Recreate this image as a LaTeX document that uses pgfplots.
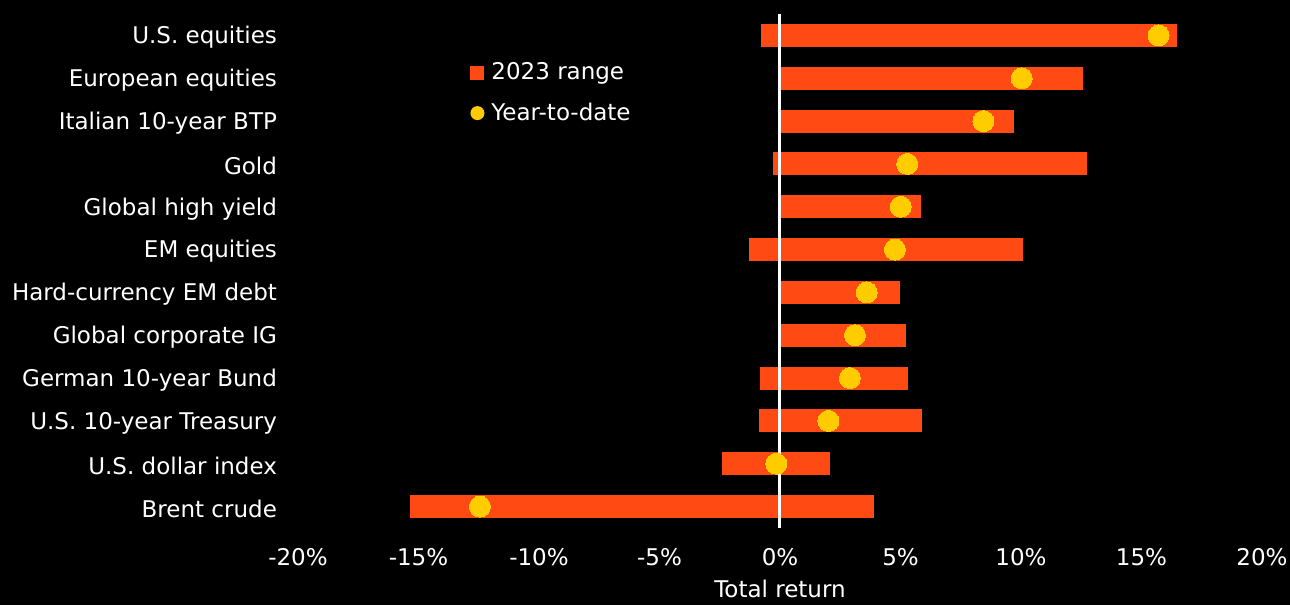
\documentclass[border=0pt]{standalone}
\usepackage{pgfplots}
\pgfplotsset{compat=1.18}
\usepackage{fontspec}
\setmainfont{DejaVu Sans}
\definecolor{rng}{HTML}{FF4A14}
\definecolor{ytd}{HTML}{FFCC00}
\newcommand{\lblfont}{\fontsize{11.5}{13}\selectfont}
\begin{document}
\begin{tikzpicture}
\fill[black] (-149pt,-38.5pt) rectangle (496pt,264pt);
\begin{axis}[
  at={(0,0)}, anchor=south west,
  scale only axis, width=482pt, height=257pt,
  xmin=-20, xmax=20, ymin=-0.5, ymax=11.5,
  axis line style={draw=none}, major tick length=0pt,
  xtick={-20,-15,...,20},
  xticklabels={-20\%,-15\%,-10\%,-5\%,0\%,5\%,10\%,15\%,20\%},
  ytick={0,...,11},
  yticklabels={Brent crude, U.S. dollar index, U.S. 10-year Treasury, German 10-year Bund, Global corporate IG, Hard-currency EM debt, EM equities, Global high yield, Gold, Italian 10-year BTP, European equities, U.S. equities},
  tick label style={font=\lblfont, text=white},
  xticklabel style={anchor=north, yshift=-6.5pt},
  yticklabel style={anchor=east, xshift=-7pt, yshift=-1pt},
  xlabel={Total return},
  xlabel style={font=\lblfont, text=white, inner sep=0pt, at={(axis description cs:0.5,0)}, anchor=north, yshift=-26pt},
  unbounded coords=jump,
  clip=false,
  legend style={draw=none, fill=none, text=white, font=\lblfont,
    at={(axis cs:-13.11,10.51)}, anchor=north west, row sep=8pt, column sep=2.5pt,
    nodes={inner sep=1pt}},
  legend cell align=left,
]
\addplot[rng, line width=11.5pt, no markers,
  legend image code/.code={\fill[rng, draw=none, line width=0pt] (0pt,-3.5pt) rectangle (7pt,3.5pt);}]
  coordinates {
  (-0.79,11) (16.47,11) (nan,nan)
  (0,10) (12.56,10) (nan,nan)
  (0,9) (9.71,9) (nan,nan)
  (-0.30,8) (12.72,8) (nan,nan)
  (0,7) (5.84,7) (nan,nan)
  (-1.27,6) (10.08,6) (nan,nan)
  (0,5) (4.98,5) (nan,nan)
  (0,4) (5.21,4) (nan,nan)
  (-0.83,3) (5.31,3) (nan,nan)
  (-0.88,2) (5.90,2) (nan,nan)
  (-2.39,1) (2.07,1) (nan,nan)
  (-15.35,0) (3.91,0)
  };
\addlegendentry{2023 range}
\addplot[white, line width=1.5pt, forget plot] coordinates {(0,-0.5) (0,11.5)};
\addplot[ytd, only marks, mark=*, mark size=5.25pt, line width=0pt,
  legend image code/.code={\fill[ytd, draw=none] (3.5pt,0pt) circle (3.5pt);}]
  coordinates {
  (15.71,11) (10.03,10) (8.44,9) (5.28,8) (5.01,7) (4.77,6)
  (3.60,5) (3.11,4) (2.90,3) (2.01,2) (-0.15,1) (-12.45,0)
  };
\addlegendentry{Year-to-date}
\end{axis}
\pgfresetboundingbox
\path (-149pt,-38.5pt) rectangle (496pt,264pt);
\end{tikzpicture}
\end{document}
